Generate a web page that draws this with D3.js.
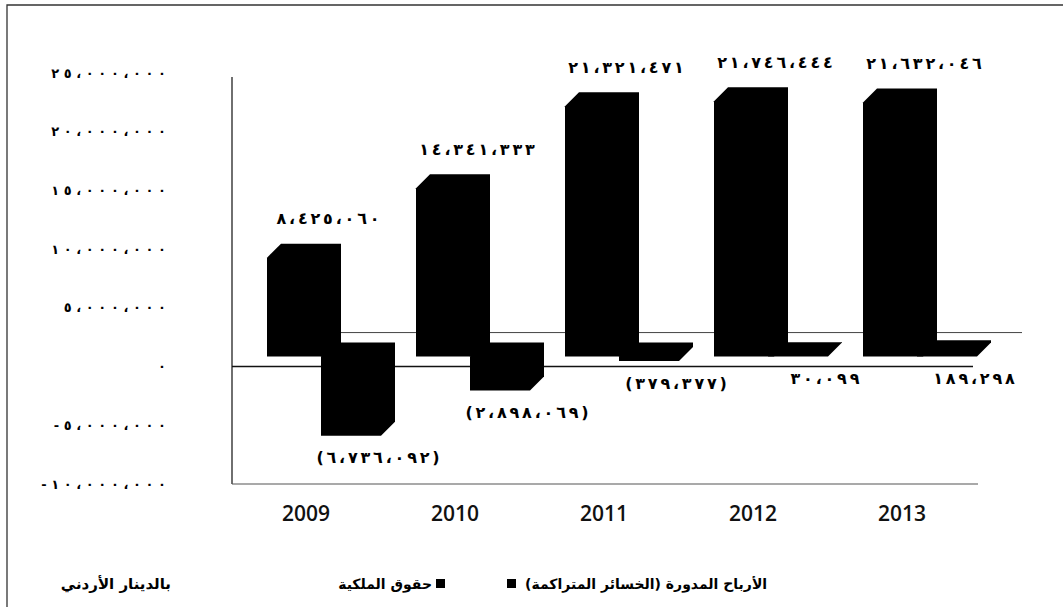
<!DOCTYPE html>
<html>
<head>
<meta charset="utf-8">
<title>حقوق الملكية والأرباح المدورة</title>
<script src="https://cdn.jsdelivr.net/npm/d3@7"></script>
<style>
  body { margin: 0; background: #fff; }
  .num { font-family: "DejaVu Sans", sans-serif; font-weight: bold; unicode-bidi: bidi-override; direction: ltr; }
  .ar { font-family: "DejaVu Sans", sans-serif; font-weight: bold; }
  .yr { font-family: "Open Sans", sans-serif; font-weight: 600; }
</style>
</head>
<body>
<svg id="chart" width="1063" height="607"></svg>
<script>
// data
var years = ["2009", "2010", "2011", "2012", "2013"];
var equity = [8425060, 14341333, 21321471, 21746444, 21632046];     // حقوق الملكية
var retained = [-6736092, -2898069, -379377, 30099, 189298];        // الأرباح المدورة (الخسائر المتراكمة)
var yTicks = [-10000000, -5000000, 0, 5000000, 10000000, 15000000, 20000000, 25000000];
var seriesNames = ["حقوق الملكية", "الأرباح المدورة (الخسائر المتراكمة)"];
var unitLabel = "بالدينار الأردني";

var svg = d3.select("#chart");

// arabic-indic digits with arabic comma
var digits = "٠١٢٣٤٥٦٧٨٩";
function arNum(v) {
    var s = d3.format(",")(Math.abs(v));
    return s.replace(/[0-9]/g, function(c) { return digits[+c]; }).replace(/,/g, "،");
}
// chrome ignores letter-spacing on arabic script, so space glyphs with a dx list
function spaced(str, gap) {
    return Array.from(str).map(function(c, i) { return i ? gap : 0; }).join(" ");
}

var y = d3.scaleLinear().domain([-10000000, 25000000]).range([484, 73]);
var x = d3.scaleBand().domain(years).range([245, 990]);

var dx = 14, dy = 14, lift = 10, barW = 60;
var tickGap = 4.6, valGap = 2.8;

// frame
svg.append("path").attr("d", "M7,607V5H1063").attr("fill", "none").attr("stroke", "#333").attr("stroke-width", 1.3);

// back zero line
svg.append("line")
   .attr("x1", x(years[0]) + 22).attr("x2", x.range()[1] + 32)
   .attr("y1", y(0) - 34).attr("y2", y(0) - 34)
   .attr("stroke", "#444").attr("stroke-width", 1);

// axes lines
svg.append("line").attr("x1", 232).attr("x2", 232).attr("y1", 77).attr("y2", y(-10000000))
   .attr("stroke", "#222").attr("stroke-width", 1.3);
svg.append("line").attr("x1", 232).attr("x2", x.range()[1] - 12)
   .attr("y1", y(-10000000)).attr("y2", y(-10000000))
   .attr("stroke", "#555").attr("stroke-width", 1.2);
svg.append("line").attr("x1", 232).attr("x2", x.range()[1] - 17)
   .attr("y1", y(0)).attr("y2", y(0))
   .attr("stroke", "#111").attr("stroke-width", 1.6);

// y tick labels
function tickText(d) { return (d < 0 ? "-" : "") + arNum(d); }
svg.append("g").selectAll("text").data(yTicks).join("text")
   .attr("class", "num")
   .attr("x", 166).attr("y", function(d) { return y(d); })
   .attr("dy", "0.35em")
   .attr("dx", function(d) { return spaced(tickText(d), tickGap); })
   .attr("text-anchor", "end")
   .style("font-size", "13px")
   .text(tickText);

// 3d box silhouette
function box(x0, v) {
    var yb = y(0) - lift, yv = y(v) - lift;
    var t = Math.min(yb, yv), b = Math.max(yb, yv);
    return [[x0, b], [x0, t], [x0 + dx, t - dy], [x0 + barW + dx, t - dy], [x0 + barW + dx, b - dy], [x0 + barW, b]];
}

var eqRows = years.map(function(yr, i) { return {year: yr, v: equity[i], x0: x(yr) + 22}; });
var reRows = years.map(function(yr, i) { return {year: yr, v: retained[i], x0: x(yr) + 76}; });

svg.append("g").selectAll("polygon").data(eqRows).join("polygon")
   .attr("points", function(d) { return box(d.x0, d.v).join(" "); })
   .attr("fill", "#000");
svg.append("g").selectAll("polygon").data(reRows).join("polygon")
   .attr("points", function(d) { return box(d.x0, d.v).join(" "); })
   .attr("fill", "#000");

// value labels
function eqText(d) { return arNum(d.v); }
function reText(d) { return d.v < 0 ? "(" + arNum(d.v) + ")" : arNum(d.v); }

svg.append("g").selectAll("text").data(eqRows).join("text")
   .attr("class", "num")
   .attr("x", function(d) { return d.x0 + 61; })
   .attr("y", function(d) { return y(d.v) - lift - dy - 25; })
   .attr("dy", "0.35em")
   .attr("dx", function(d) { return spaced(eqText(d), valGap); })
   .attr("text-anchor", "middle")
   .style("font-size", "16px")
   .text(eqText);

svg.append("g").selectAll("text").data(reRows).join("text")
   .attr("class", "num")
   .attr("x", function(d) { return d.x0 + 57; })
   .attr("y", function(d) { return Math.max(y(0), y(d.v)) - lift + 22; })
   .attr("dy", "0.35em")
   .attr("dx", function(d) { return spaced(reText(d), valGap); })
   .attr("text-anchor", "middle")
   .style("font-size", "16px")
   .text(reText);

// year labels
svg.append("g").selectAll("text").data(years).join("text")
   .attr("class", "yr")
   .attr("x", function(d) { return x(d) + 61; })
   .attr("y", 514).attr("dy", "0.35em")
   .attr("text-anchor", "middle")
   .style("font-size", "21px").attr("fill", "#111")
   .text(function(d) { return d; });

// legend
var lg = svg.append("g");
lg.append("text").attr("class", "ar").attr("direction", "rtl")
  .attr("x", 171).attr("y", 584).attr("dy", "0.35em").attr("text-anchor", "start")
  .style("font-size", "15px").text(unitLabel);
lg.append("rect").attr("x", 436).attr("y", 579).attr("width", 9).attr("height", 9).attr("fill", "#000");
lg.append("text").attr("class", "ar").attr("direction", "rtl")
  .attr("x", 432).attr("y", 584).attr("dy", "0.35em").attr("text-anchor", "start")
  .style("font-size", "14px").text(seriesNames[0]);
lg.append("rect").attr("x", 507).attr("y", 579).attr("width", 9).attr("height", 9).attr("fill", "#000");
lg.append("text").attr("class", "ar").attr("direction", "rtl")
  .attr("x", 525).attr("y", 584).attr("dy", "0.35em").attr("text-anchor", "end")
  .style("font-size", "14px").text(seriesNames[1]);
</script>
</body>
</html>
